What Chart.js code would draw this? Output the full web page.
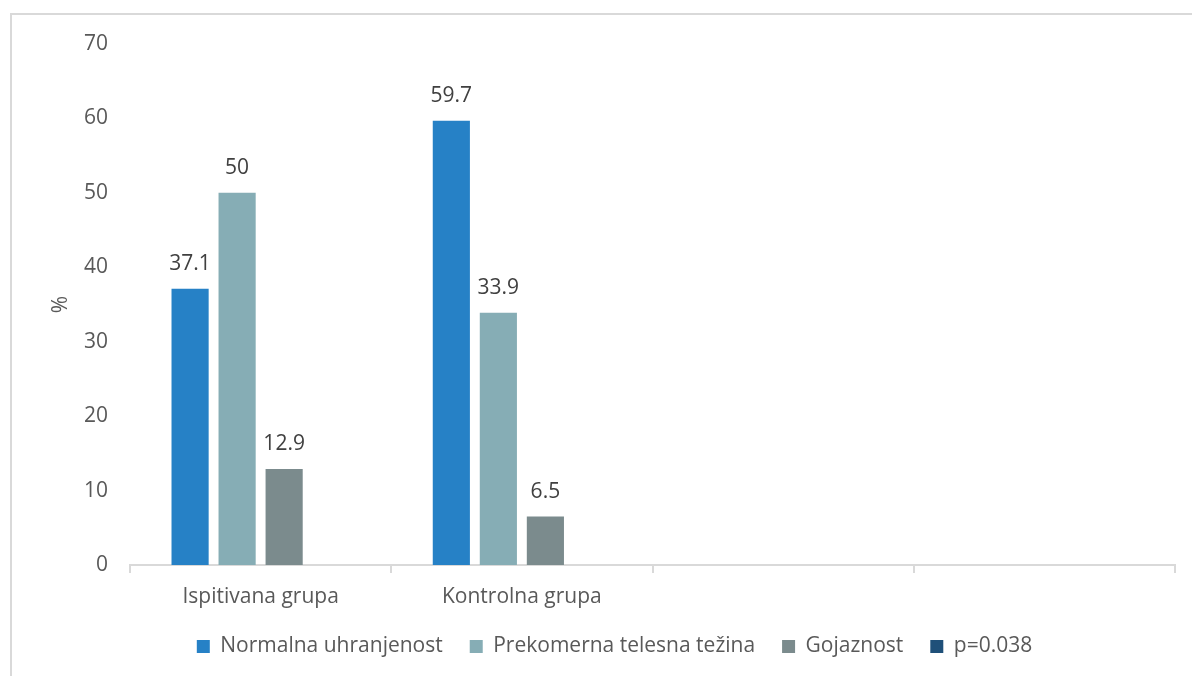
<!DOCTYPE html>
<html>
<head>
<meta charset="utf-8">
<script src="https://cdn.jsdelivr.net/npm/chart.js@4.4.0/dist/chart.umd.min.js"></script>
<style>
  html, body { margin: 0; padding: 0; background: #fff; overflow: hidden; }
  #frame {
    position: absolute; left: 10px; top: 13px;
    width: 1200px; height: 700px;
    border: 2px solid #d9d9d9;
  }
  #wrap { position: absolute; left: 0; top: 0; width: 1192px; height: 676px; }
</style>
</head>
<body>
<div id="frame"></div>
<div id="wrap"><canvas id="bmi-chart"></canvas></div>
<script>
// groups on the x axis (last two are empty slots)
const groups = ["Ispitivana grupa", "Kontrolna grupa", "", ""];

// percentages per group
const normalna    = [37.1, 59.7, null, null];
const prekomerna  = [50, 33.9, null, null];
const gojaznost   = [12.9, 6.5, null, null];
const pValue      = [null, null, null, null];

const yTicks = [0, 10, 20, 30, 40, 50, 60, 70];

const FONT = "'Open Sans', sans-serif";
const SIZE = 21;

// value labels above each bar
const barValues = {
  id: "barValues",
  afterDatasetsDraw(chart) {
    const ctx = chart.ctx;
    ctx.save();
    ctx.font = SIZE + "px " + FONT;
    ctx.fillStyle = "#404040";
    ctx.textAlign = "center";
    ctx.textBaseline = "bottom";
    chart.data.datasets.forEach((ds, i) => {
      const meta = chart.getDatasetMeta(i);
      meta.data.forEach((bar, j) => {
        const v = ds.data[j];
        if (v === null || v === undefined) return;
        ctx.fillText(String(v), bar.x, bar.y - 14);
      });
    });
    ctx.restore();
  }
};

new Chart(document.getElementById("bmi-chart"), {
  type: "bar",
  data: {
    labels: groups,
    datasets: [
      { label: "Normalna uhranjenost", data: normalna, backgroundColor: "#2681c6" },
      { label: "Prekomerna telesna težina", data: prekomerna, backgroundColor: "#86adb5" },
      { label: "Gojaznost", data: gojaznost, backgroundColor: "#7b8b8d" },
      { label: "p=0.038", data: pValue, backgroundColor: "#1f5079" },
    ],
  },
  options: {
    responsive: true,
    maintainAspectRatio: false,
    animation: false,
    categoryPercentage: 0.72,
    barPercentage: 0.79,
    layout: { padding: { top: 44, left: 54, right: 17, bottom: 9 } },
    plugins: {
      legend: {
        position: "bottom",
        labels: {
          color: "#595959",
          font: { family: FONT, size: SIZE },
          boxWidth: 13,
          boxHeight: 13,
          padding: 27,
        },
      },
      tooltip: { enabled: false },
    },
    scales: {
      x: {
        // tall enough that descenders of the group names are not clipped
        afterFit: scale => { scale.height = 44; },
        grid: {
          display: true,
          drawOnChartArea: false,
          drawTicks: true,
          tickLength: 8,
          color: "#d9d9d9",
          lineWidth: 2,
        },
        border: { color: "#d9d9d9", width: 2 },
        ticks: { color: "#595959", font: { family: FONT, size: SIZE }, padding: 11 },
      },
      y: {
        min: 0,
        max: 70,
        afterBuildTicks: scale => { scale.ticks = yTicks.map(v => ({ value: v })); },
        afterFit: scale => { scale.width = 76; },
        grid: { display: false },
        border: { display: false },
        ticks: { color: "#595959", font: { family: FONT, size: SIZE }, padding: 14 },
        title: {
          display: true,
          text: "%",
          color: "#595959",
          font: { family: FONT, size: SIZE },
          padding: { top: -6, bottom: 0 },
        },
      },
    },
  },
  plugins: [barValues],
});
</script>
</body>
</html>
